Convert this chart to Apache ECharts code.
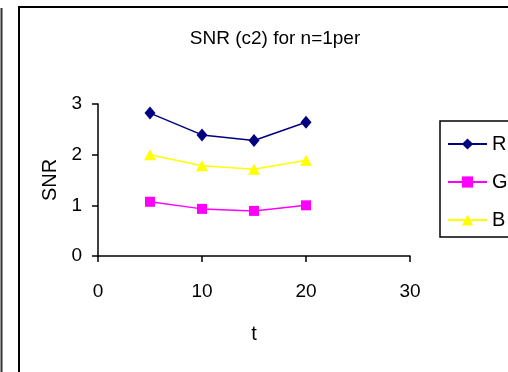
<!DOCTYPE html>
<html>
<head>
<meta charset="utf-8">
<script src="https://cdn.jsdelivr.net/npm/echarts@6/dist/echarts.min.js"></script>
<style>
  html, body { margin: 0; padding: 0; background: #fff; }
  #main { width: 508px; height: 372px; }
</style>
</head>
<body>
<div id="main"></div>
<script>
// data
var tValues = [5, 10, 15, 20];
var rValues = [2.82, 2.39, 2.28, 2.64];
var gValues = [1.07, 0.93, 0.89, 1.0];
var bValues = [2.0, 1.78, 1.71, 1.89];
var seriesNames = ['R', 'G', 'B'];

function pairs(ys) {
  return tValues.map(function (t, i) { return [t, ys[i]]; });
}

var font = 'Arial, "Liberation Sans", sans-serif';
var chart = echarts.init(document.getElementById('main'));

var option = {
  animation: false,
  backgroundColor: '#fff',
  title: {
    text: 'SNR (c2) for n=1per',
    left: 270,
    textAlign: 'center',
    top: 24,
    textStyle: { fontFamily: font, fontSize: 19, fontWeight: 'normal', color: '#000' }
  },
  graphic: [
    { type: 'line', shape: { x1: 1.5, y1: 8, x2: 1.5, y2: 372 }, style: { stroke: '#333', lineWidth: 2 } },
    { type: 'rect', shape: { x: 19, y: 7, width: 520, height: 400 }, style: { fill: null, stroke: '#000', lineWidth: 2 } }
  ],
  legend: {
    orient: 'vertical',
    left: 440,
    top: 121,
    data: seriesNames,
    itemWidth: 39,
    itemHeight: 14,
    itemGap: 18,
    padding: [13, 30, 7, 7],
    borderColor: '#000',
    borderWidth: 1.5,
    borderRadius: 0,
    textStyle: { fontFamily: font, fontSize: 20, color: '#000' }
  },
  grid: { left: 98, top: 104, width: 312, height: 152, containLabel: false },
  xAxis: {
    type: 'value',
    min: 0, max: 30, interval: 10,
    name: 't',
    nameLocation: 'middle',
    nameGap: 68,
    nameTextStyle: { fontFamily: font, fontSize: 20, color: '#000' },
    axisLine: { lineStyle: { color: '#000', width: 1.5 } },
    axisTick: { show: true, inside: false, length: 6, lineStyle: { color: '#000', width: 1.5 } },
    axisLabel: { margin: 26, fontFamily: font, fontSize: 19, color: '#000' },
    splitLine: { show: false }
  },
  yAxis: {
    type: 'value',
    min: 0, max: 3, interval: 1,
    name: 'SNR',
    nameLocation: 'middle',
    nameGap: 38,
    nameTextStyle: { fontFamily: font, fontSize: 20, color: '#000' },
    axisLine: { show: true, lineStyle: { color: '#000', width: 1.5 } },
    axisTick: { show: true, inside: false, length: 6, lineStyle: { color: '#000', width: 1.5 } },
    axisLabel: { margin: 16, fontFamily: font, fontSize: 19, color: '#000' },
    splitLine: { show: false }
  },
  series: [
    {
      name: 'R', type: 'line', data: pairs(rValues),
      symbol: 'diamond', symbolSize: [11, 13],
      lineStyle: { color: '#000080', width: 1.5 },
      itemStyle: { color: '#000080' }
    },
    {
      name: 'G', type: 'line', data: pairs(gValues),
      symbol: 'rect', symbolSize: 10,
      lineStyle: { color: '#ff00ff', width: 1.5 },
      itemStyle: { color: '#ff00ff' }
    },
    {
      name: 'B', type: 'line', data: pairs(bValues),
      symbol: 'triangle', symbolSize: [12, 11],
      lineStyle: { color: '#ffff00', width: 1.5 },
      itemStyle: { color: '#ffff00' }
    }
  ]
};

chart.setOption(option);
</script>
</body>
</html>
